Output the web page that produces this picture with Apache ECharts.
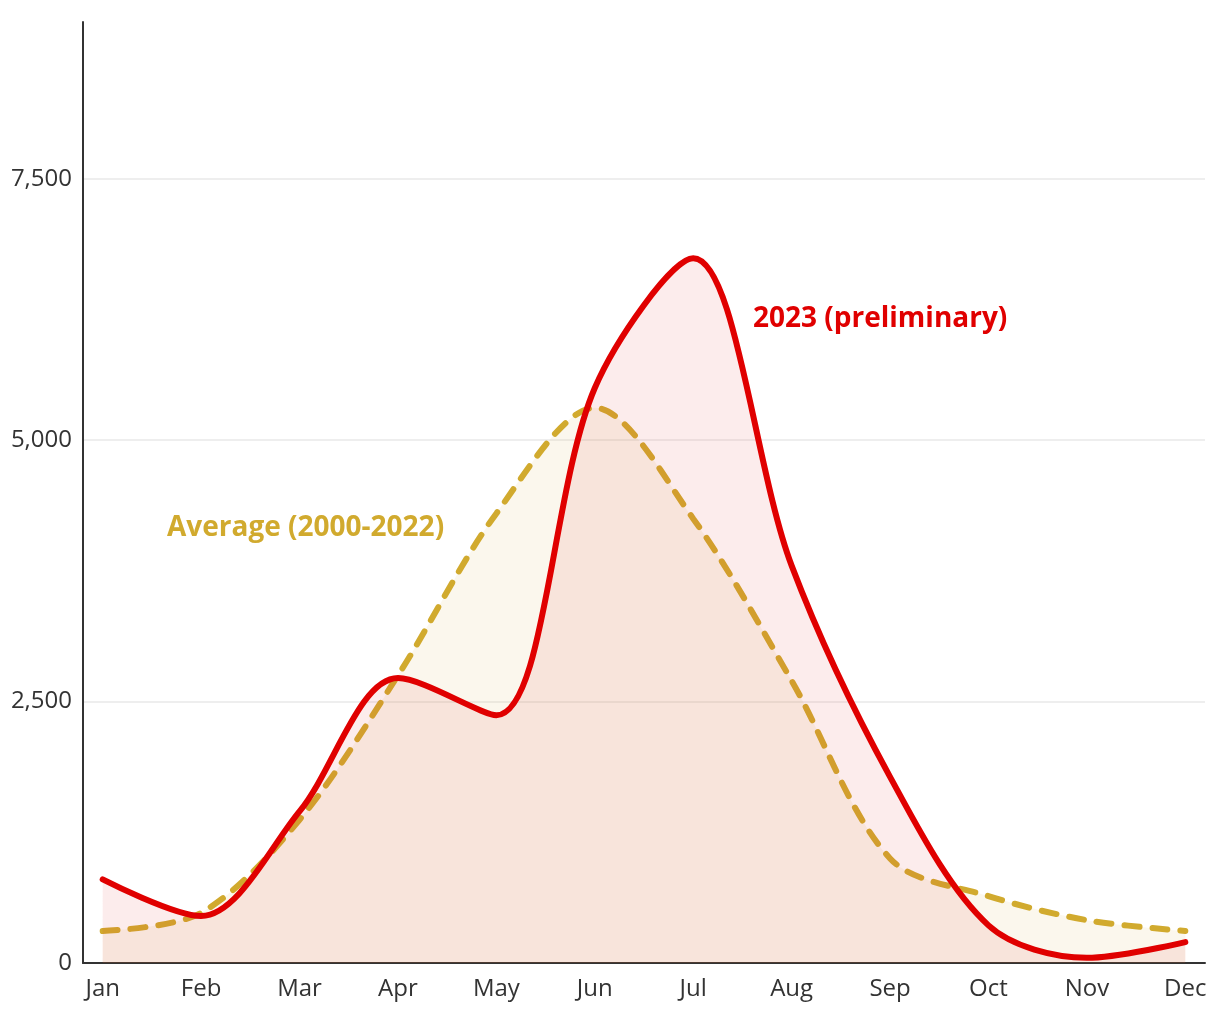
<!DOCTYPE html>
<html><head><meta charset="utf-8">
<script src="https://cdn.jsdelivr.net/npm/echarts@6/dist/echarts.min.js"></script>
<style>html,body{margin:0;padding:0;background:#fff}#c{width:1220px;height:1020px}</style>
</head><body><div id="c"></div>
<script>
const months = ['Jan','Feb','Mar','Apr','May','Jun','Jul','Aug','Sep','Oct','Nov','Dec'];
const values2023 = [800, 450, 1450, 2725, 2370, 5500, 6740, 3800, 1780, 360, 50, 200];
const valuesAvg = [306, 480, 1370, 2750, 4300, 5310, 4250, 2700, 1000, 640, 410, 306];
const yTicks = [0, 2500, 5000, 7500];
const label2023 = '2023 (preliminary)';
const labelAvg = 'Average (2000-2022)';

const chart = echarts.init(document.getElementById('c'));
const idx = months.map((m, i) => i);
chart.setOption({
  animation: false,
  textStyle: {fontFamily: 'Open Sans'},
  grid: {left: 83, right: 15, top: 22, bottom: 57},
  xAxis: {
    type: 'value', min: -0.2, max: 11.2,
    axisLine: {show: true, onZero: false, lineStyle: {color: '#333', width: 2}},
    axisTick: {show: false},
    splitLine: {show: false},
    axisLabel: {customValues: idx, formatter: v => months[Math.round(v)], fontSize: 24, color: '#333', margin: 14, fontFamily: 'Open Sans'}
  },
  yAxis: {
    type: 'value', min: 0, max: 9000,
    axisLine: {show: true, onZero: false, lineStyle: {color: '#333', width: 2}},
    axisTick: {show: false, customValues: yTicks},
    splitLine: {show: true, lineStyle: {color: '#e8e8e8', width: 1.5}},
    axisLabel: {customValues: yTicks, formatter: v => v.toLocaleString('en-US'), fontSize: 24, color: '#333', margin: 11, fontFamily: 'Open Sans'}
  },
  series: [
    {
      type: 'line', name: labelAvg, z: 2,
      data: valuesAvg.map((v, i) => [i, v]),
      smooth: 0.32, symbol: 'none',
      lineStyle: {color: '#d1aa2e', width: 6, type: [15, 13], cap: 'round'},
      areaStyle: {color: 'rgba(215,170,60,0.13)'}
    },
    {
      type: 'line', name: label2023, z: 3,
      data: values2023.map((v, i) => [i, v]),
      smooth: 0.32, symbol: 'none',
      lineStyle: {color: '#e00000', width: 6, cap: 'round', join: 'round'},
      areaStyle: {color: 'rgba(225,40,40,0.12)'}
    }
  ],
  graphic: [
    {type: 'text', left: 753, top: 305, style: {text: label2023, fill: '#e00000', font: 'bold 28px "Open Sans"'}},
    {type: 'text', left: 167, top: 514, style: {text: labelAvg, fill: '#d1aa2e', font: 'bold 28px "Open Sans"'}}
  ]
});
</script></body></html>
